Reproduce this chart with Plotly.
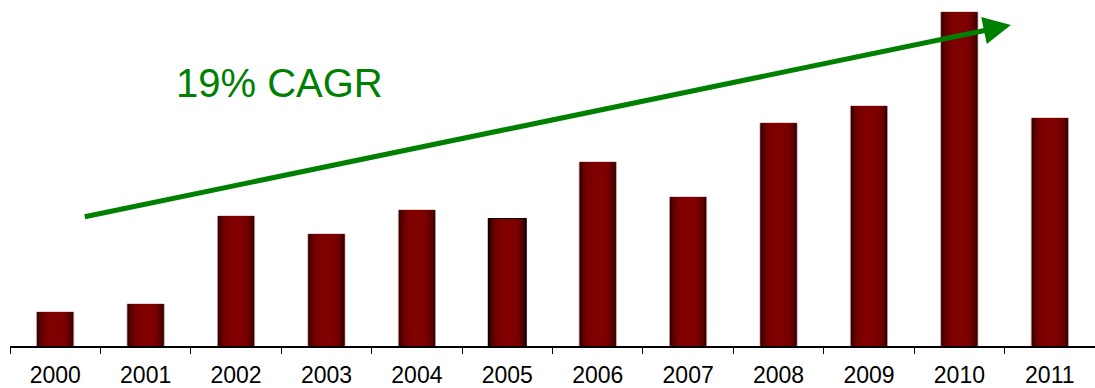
import plotly.graph_objects as go

years = ["2000", "2001", "2002", "2003", "2004", "2005",
         "2006", "2007", "2008", "2009", "2010", "2011"]
values = [3.4, 4.2, 13.0, 11.2, 13.6, 12.7, 18.4, 14.9, 22.3, 24.0, 33.4, 22.8]
label = "19% CAGR"
arrow_start = (0.31, 12.9)
arrow_end = (10.57, 32.1)

fig = go.Figure()

# layered bars to imitate horizontal gradient (dark edges, red centre)
layers = [
    (0.41, "#250000"),
    (0.395, "#330000"),
    (0.38, "#420000"),
    (0.36, "#500000"),
    (0.34, "#5c0000"),
    (0.31, "#660000"),
    (0.28, "#6f0000"),
    (0.24, "#770000"),
    (0.19, "#7c0000"),
    (0.13, "#800000"),
]
line_colors = ["rgba(200,150,150,0.8)"] * len(years)
line_widths = [1] * len(years)
line_colors[5] = "black"
line_widths[5] = 2

for i, (w, c) in enumerate(layers):
    fig.add_trace(go.Bar(
        x=years, y=values, width=w,
        marker=dict(color=c,
                    line=dict(color=line_colors if i == 0 else c,
                              width=line_widths if i == 0 else 0)),
        hoverinfo="skip", showlegend=False,
    ))

fig.add_annotation(
    x=arrow_end[0], y=arrow_end[1], ax=arrow_start[0], ay=arrow_start[1],
    xref="x", yref="y", axref="x", ayref="y",
    showarrow=True, arrowhead=2, arrowsize=1.1, arrowwidth=5,
    arrowcolor="#008000", text="",
)
fig.add_annotation(
    x=0.151, y=0.76, xref="paper", yref="paper",
    text=label, showarrow=False,
    font=dict(family="Liberation Sans, Arial, sans-serif", size=40, color="#008000"),
    xanchor="left", yanchor="middle",
)

fig.update_layout(
    width=1095, height=388,
    margin=dict(l=10, r=0, t=0, b=42),
    barmode="overlay",
    plot_bgcolor="white", paper_bgcolor="white",
    xaxis=dict(
        type="category", tickson="boundaries", ticks="outside", ticklen=6,
        tickcolor="black", tickwidth=1, showline=True, linecolor="black",
        linewidth=1.5, showgrid=False, ticklabelstandoff=8,
        tickfont=dict(family="Liberation Sans, Arial, sans-serif", size=23, color="black"),
    ),
    yaxis=dict(range=[0, 34.6], visible=False, showgrid=False),
)

fig.write_html("out.html")
